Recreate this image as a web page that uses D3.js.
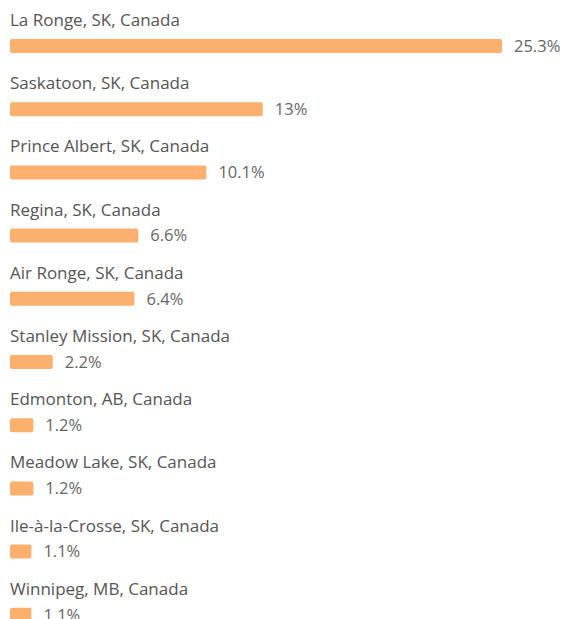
<!DOCTYPE html>
<html>
<head>
<meta charset="utf-8">
<script src="https://cdn.jsdelivr.net/npm/d3@7"></script>
<style>
  body { margin: 0; background: #fff; }
  text { font-family: "Open Sans", sans-serif; }
</style>
</head>
<body>
<svg width="563" height="619"></svg>
<script>
var places = ["La Ronge, SK, Canada", "Saskatoon, SK, Canada", "Prince Albert, SK, Canada",
    "Regina, SK, Canada", "Air Ronge, SK, Canada", "Stanley Mission, SK, Canada",
    "Edmonton, AB, Canada", "Meadow Lake, SK, Canada", "Ile-à-la-Crosse, SK, Canada",
    "Winnipeg, MB, Canada"];
var shares = [25.3, 13, 10.1, 6.6, 6.4, 2.2, 1.2, 1.2, 1.1, 1.1];
var shareLabels = ["25.3%", "13%", "10.1%", "6.6%", "6.4%", "2.2%", "1.2%", "1.2%", "1.1%", "1.1%"];

var svg = d3.select("svg"),
    left = 10;

var data = places.map(function(p, i) { return { name: p, value: shares[i], label: shareLabels[i] }; });

var y = d3.scaleBand()
    .domain(places)
    .range([0, 632]);

var x = d3.scaleLinear()
    .domain([0, 25.3])
    .range([0, 492]);

var row = svg.selectAll("g.row")
    .data(data)
    .enter().append("g")
      .attr("class", "row")
      .attr("transform", function(d) { return "translate(" + left + "," + y(d.name) + ")"; });

// place name above each bar
row.append("text")
    .attr("x", 0)
    .attr("y", 26)
    .style("font-size", "17px")
    .style("fill", "#555555")
    .text(function(d) { return d.name; });

row.append("rect")
    .attr("x", 0)
    .attr("y", 39)
    .attr("height", 14)
    .attr("width", function(d) { return x(d.value); })
    .attr("rx", 2)
    .style("fill", "#fcb06e");

// value label right of bar
row.append("text")
    .attr("x", function(d) { return x(d.value) + 12; })
    .attr("y", 46)
    .attr("dy", "0.35em")
    .style("font-size", "16.5px")
    .style("fill", "#666666")
    .text(function(d) { return d.label; });
</script>
</body>
</html>
